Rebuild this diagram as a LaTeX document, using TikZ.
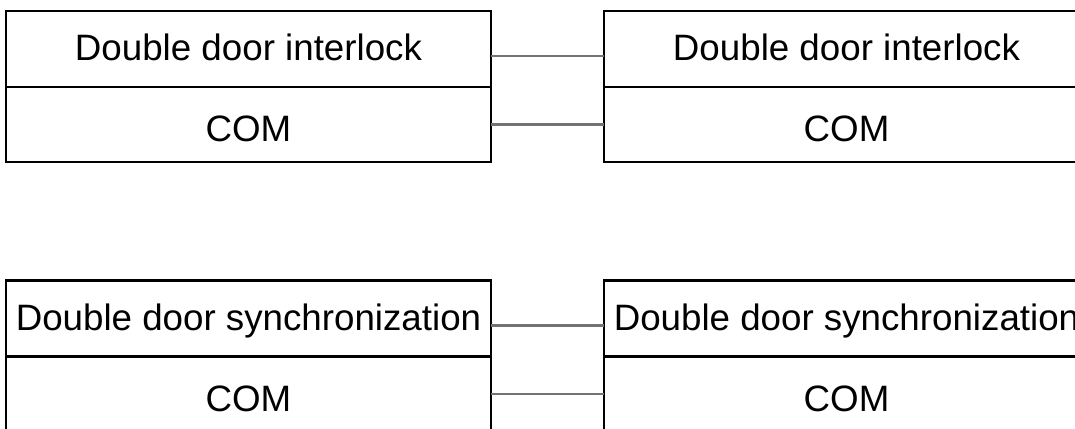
\documentclass[tikz,border=0pt]{standalone}
\usepackage{fontspec}
\setmainfont{Liberation Sans}
\usetikzlibrary{positioning}

\begin{document}
\begin{tikzpicture}[
        namerow/.style={draw, line width=1.5pt, rectangle, inner sep=0pt, outer sep=0pt,
            minimum width=9.7cm, minimum height=1.52cm,
            font=\fontsize{20.9}{25}\selectfont, text height=17pt, text depth=3.4pt},
        comrow/.style={namerow, minimum height=1.5cm, text height=19.8pt, text depth=0pt},
        wire/.style={line width=1.5pt, draw=black!55}
    ]

        % page
            \clip (0,0) rectangle (21.5,-8.56);

        % interlock pair
            \node[namerow] (lockA) at (4.97,-0.98) {Double door interlock};
            \node[comrow, below=0pt of lockA] (comlockA) {COM};
            \node[namerow] (lockB) at (16.93,-0.98) {Double door interlock};
            \node[comrow, below=0pt of lockB] (comlockB) {COM};
            \draw[wire] ([yshift=-0.14cm]lockA.east) -- ([yshift=-0.14cm]lockB.west);
            \draw[wire] (comlockA.east) -- (comlockB.west);

        % synchronization pair
            \node[namerow] (syncA) at (4.97,-6.37) {Double door synchronization};
            \node[comrow, below=0pt of syncA] (comsyncA) {COM};
            \node[namerow] (syncB) at (16.93,-6.37) {Double door synchronization};
            \node[comrow, below=0pt of syncB] (comsyncB) {COM};
            \draw[wire] ([yshift=-0.14cm]syncA.east) -- ([yshift=-0.14cm]syncB.west);
            \draw[wire] (comsyncA.east) -- (comsyncB.west);
        \end{tikzpicture}
\end{document}
